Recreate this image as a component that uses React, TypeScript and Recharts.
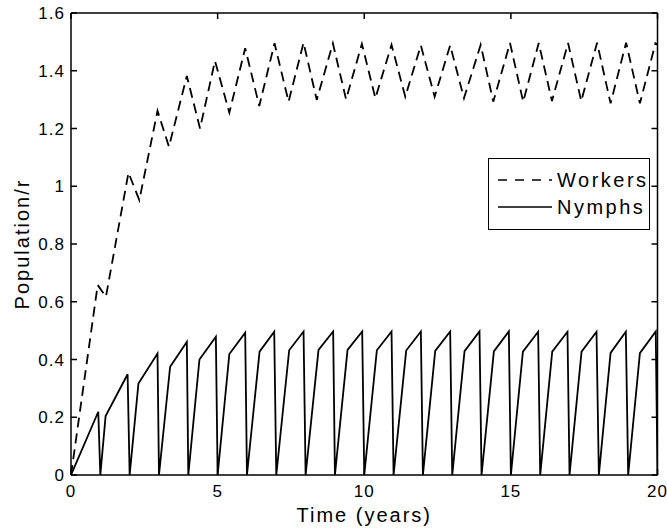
import { LineChart, Line, XAxis, YAxis, Legend, Label } from 'recharts'

// nymphs: saw-tooth, one tooth per year
const nymphKneeTime = [null, 1.18, 2.3, 3.38, 4.38, 5.4, 6.43, 7.44, 8.44, 9.43, 10.43, 11.43, 12.42, 13.42, 14.42, 15.41, 16.41, 17.41, 18.4, 19.4]
const nymphKneeValue = [null, 0.204, 0.317, 0.375, 0.4, 0.419, 0.427, 0.432, 0.433, 0.433, 0.432, 0.431, 0.43, 0.429, 0.428, 0.427, 0.427, 0.427, 0.423, 0.422]
const nymphPeakTime = [0.93, 1.93, 2.95, 3.95, 4.94, 5.94, 6.93, 7.93, 8.94, 9.93, 10.93, 11.93, 12.93, 13.93, 14.93, 15.93, 16.93, 17.92, 18.92, 19.94]
const nymphPeakValue = [0.219, 0.349, 0.421, 0.461, 0.479, 0.493, 0.496, 0.497, 0.497, 0.497, 0.497, 0.497, 0.497, 0.497, 0.497, 0.496, 0.496, 0.496, 0.496, 0.497]
const nymphDropTime = [1, 2, 3, 4, 5, 6, 7, 8, 9, 10, 11, 12, 13, 14, 15, 16, 17, 18, 19, 20]

// workers: zig-zag between a peak and a trough each year
const workerPeakTime = [0.91, 1.96, 2.95, 3.95, 4.91, 5.94, 6.94, 7.93, 8.93, 9.92, 10.93, 11.93, 12.93, 13.97, 14.97, 15.95, 16.95, 17.94, 18.93, 19.93]
const workerPeakValue = [0.658, 1.047, 1.261, 1.382, 1.434, 1.478, 1.495, 1.497, 1.495, 1.493, 1.49, 1.488, 1.488, 1.49, 1.496, 1.496, 1.496, 1.497, 1.497, 1.495]
const workerTroughTime = [1.19, 2.33, 3.34, 4.4, 5.4, 6.42, 7.42, 8.38, 9.38, 10.38, 11.4, 12.4, 13.4, 14.4, 15.42, 16.4, 17.4, 18.4, 19.4]
const workerTroughValue = [0.617, 0.952, 1.137, 1.2, 1.255, 1.278, 1.293, 1.299, 1.301, 1.305, 1.31, 1.31, 1.305, 1.293, 1.293, 1.295, 1.295, 1.287, 1.287]
const workerEnd = { t: 20, workers: 1.49 }

const xTicks = [0, 5, 10, 15, 20]
const yTicks = [0, 0.2, 0.4, 0.6, 0.8, 1, 1.2, 1.4, 1.6]

const nymphData: { t: number; nymphs: number }[] = [{ t: 0, nymphs: 0 }]
nymphPeakTime.forEach((pt, i) => {
  const kt = nymphKneeTime[i]
  const kv = nymphKneeValue[i]
  if (kt !== null && kv !== null) nymphData.push({ t: kt, nymphs: kv })
  nymphData.push({ t: pt, nymphs: nymphPeakValue[i] })
  nymphData.push({ t: nymphDropTime[i], nymphs: 0 })
})

const workerData: { t: number; workers: number }[] = [{ t: 0, workers: 0 }]
workerPeakTime.forEach((pt, i) => {
  workerData.push({ t: pt, workers: workerPeakValue[i] })
  if (i < workerTroughTime.length) workerData.push({ t: workerTroughTime[i], workers: workerTroughValue[i] })
})
workerData.push(workerEnd)

const font = '"Liberation Sans", Arial, Helvetica, sans-serif'

function LegendBox() {
  return (
    <div
      style={{
        width: 160,
        height: 70,
        border: '1.5px solid #000',
        background: '#fff',
      }}
    >
      <svg width={160} height={70} style={{ display: 'block' }}>
        <line x1={9} x2={63} y1={21} y2={21} stroke="#000" strokeWidth={1.6} strokeDasharray="9 8" />
        <text x={68} y={28} fontFamily={font} fontSize={20} letterSpacing={2.5} fill="#000">
          Workers
        </text>
        <line x1={9} x2={63} y1={48} y2={48} stroke="#000" strokeWidth={1.6} />
        <text x={68} y={55} fontFamily={font} fontSize={20} letterSpacing={2.5} fill="#000">
          Nymphs
        </text>
      </svg>
    </div>
  )
}

export default function App() {
  const tickStyle = { fontSize: 17, fill: '#000', fontFamily: font, letterSpacing: 1 }
  return (
    <div style={{ position: 'absolute', left: 0, top: 0, background: '#fff' }}>
      <LineChart width={667} height={532} margin={{ top: 12, right: 8.5, left: 0, bottom: 0 }}>
        <XAxis
          xAxisId="bottom"
          dataKey="t"
          type="number"
          domain={[0, 20]}
          ticks={xTicks}
          allowDataOverflow
          height={57}
          stroke="#000"
          strokeWidth={1.5}
          tickSize={-6}
          tickMargin={16}
          tick={tickStyle}
        >
          <Label
            value="Time (years)"
            position="insideBottom"
            offset={10}
            style={{ fontSize: 20, fill: '#000', fontFamily: font, letterSpacing: 2 }}
          />
        </XAxis>
        <XAxis
          xAxisId="top"
          orientation="top"
          dataKey="t"
          type="number"
          domain={[0, 20]}
          ticks={xTicks}
          allowDataOverflow
          height={1}
          stroke="#000"
          strokeWidth={1.5}
          tickSize={-6}
          tickFormatter={() => ''}
        />
        <YAxis
          yAxisId="left"
          type="number"
          domain={[0, 1.6]}
          ticks={yTicks}
          allowDataOverflow
          width={71}
          stroke="#000"
          strokeWidth={1.5}
          tickSize={-6}
          tickMargin={12}
          tick={tickStyle}
        >
          <Label
            value="Population/r"
            angle={-90}
            position="insideLeft"
            offset={22}
            style={{ fontSize: 20, fill: '#000', fontFamily: font, letterSpacing: 2, textAnchor: 'middle' }}
          />
        </YAxis>
        <YAxis
          yAxisId="right"
          orientation="right"
          type="number"
          domain={[0, 1.6]}
          ticks={yTicks}
          allowDataOverflow
          width={1}
          stroke="#000"
          strokeWidth={1.5}
          tickSize={-6}
          tickFormatter={() => ''}
        />
        <Legend
          layout="vertical"
          align="center"
          verticalAlign="middle"
          wrapperStyle={{ position: 'absolute', left: 488, top: 158, width: 163, height: 73 }}
          content={() => <LegendBox />}
        />
        {/* workers mapped on the top/right axes (same domains) so the frame is drawn */}
        <Line
          name="Workers"
          data={workerData}
          dataKey="workers"
          xAxisId="top"
          yAxisId="right"
          type="linear"
          stroke="#000"
          strokeWidth={1.8}
          strokeDasharray="10 6"
          dot={false}
          activeDot={false}
          isAnimationActive={false}
        />
        <Line
          name="Nymphs"
          data={nymphData}
          dataKey="nymphs"
          xAxisId="bottom"
          yAxisId="left"
          type="linear"
          stroke="#000"
          strokeWidth={1.8}
          dot={false}
          activeDot={false}
          isAnimationActive={false}
        />
      </LineChart>
    </div>
  )
}
